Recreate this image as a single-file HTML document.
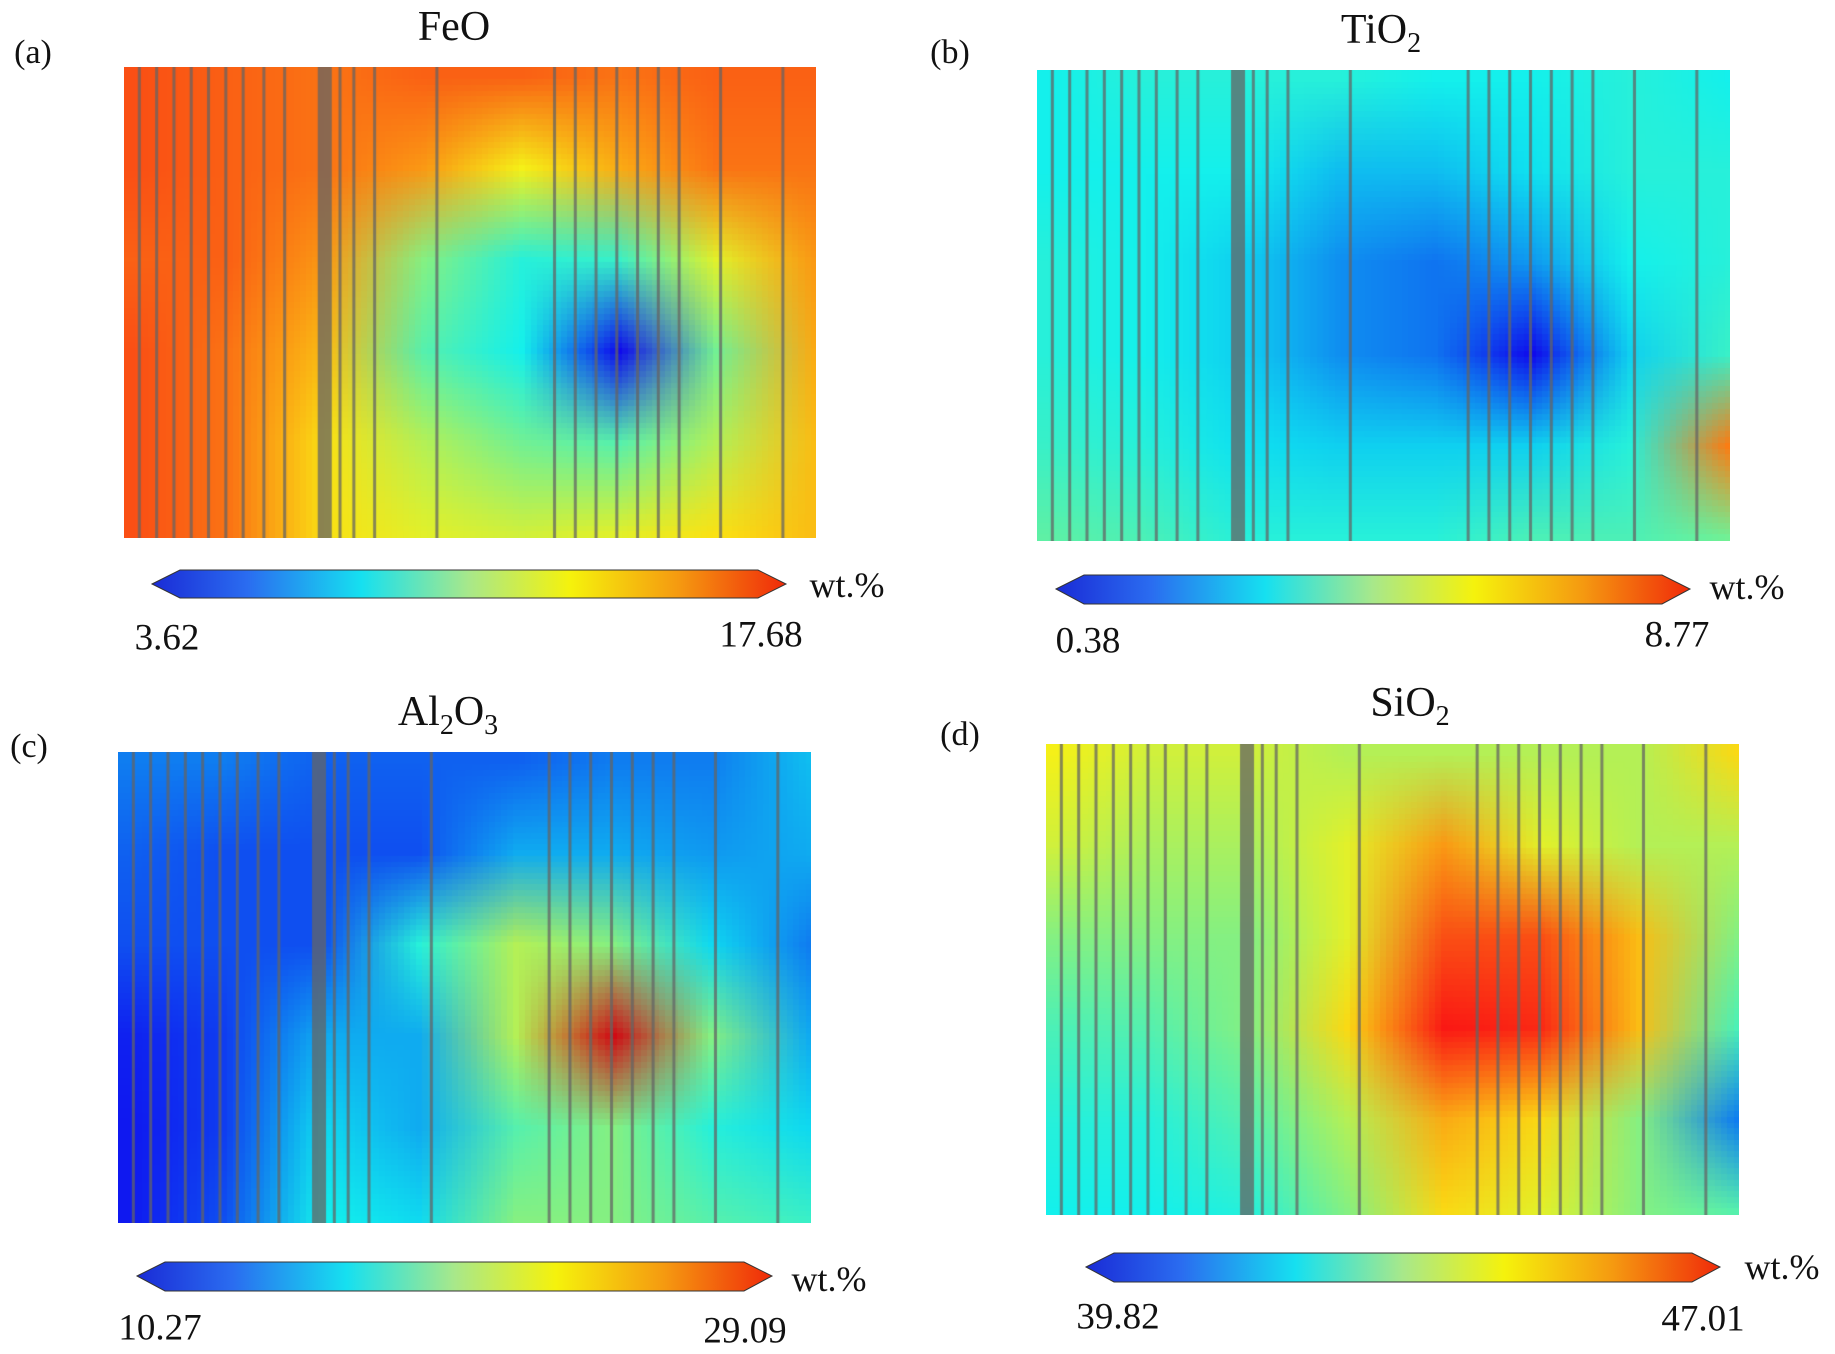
<!DOCTYPE html>
<html>
<head>
<meta charset="utf-8">
<style>
html,body{margin:0;padding:0;background:#fff;}
#root{position:relative;width:1835px;height:1354px;overflow:hidden;font-family:"Liberation Serif",serif;color:#111;}
.t{position:absolute;white-space:nowrap;transform:translate(-50%,-50%);}
canvas{position:absolute;}
svg{position:absolute;left:0;top:0;}
</style>
</head>
<body>
<div id="root">
<canvas id="ma" style="left:124px;top:67px;width:692px;height:471px" width="692" height="471"></canvas>
<canvas id="mb" style="left:1037px;top:70px;width:693px;height:471px" width="693" height="471"></canvas>
<canvas id="mc" style="left:118px;top:752px;width:693px;height:471px" width="693" height="471"></canvas>
<canvas id="md" style="left:1046px;top:744px;width:693px;height:471px" width="693" height="471"></canvas>

<svg width="1835" height="1354">
<defs>
<linearGradient id="jet" x1="0" x2="1" y1="0" y2="0">
<stop offset="0" stop-color="#1a2bd6"/><stop offset="0.15" stop-color="#2a6cf0"/>
<stop offset="0.33" stop-color="#16e0f0"/><stop offset="0.5" stop-color="#a8e88a"/>
<stop offset="0.66" stop-color="#f5f20c"/><stop offset="0.83" stop-color="#f59a10"/>
<stop offset="1" stop-color="#f02a0a"/>
</linearGradient>
</defs>
<polygon points="152,584 180,570 758,570 786,584 758,598 180,598" fill="url(#jet)" stroke="#333" stroke-width="1"/>
<polygon points="1056,589 1084,575 1662,575 1690,589 1662,604 1084,604" fill="url(#jet)" stroke="#333" stroke-width="1"/>
<polygon points="137,1276 165,1262 744,1262 772,1276 744,1291 165,1291" fill="url(#jet)" stroke="#333" stroke-width="1"/>
<polygon points="1086,1267 1114,1253 1692,1253 1720,1267 1692,1282 1114,1282" fill="url(#jet)" stroke="#333" stroke-width="1"/>
</svg>

<div class="t" style="left:33px;top:53px;font-size:34px">(a)</div>
<div class="t" style="left:454px;top:27px;font-size:42px">FeO</div>
<div class="t" style="left:167px;top:638px;font-size:37px">3.62</div>
<div class="t" style="left:761px;top:635px;font-size:37px">17.68</div>
<div class="t" style="left:847px;top:585px;font-size:36px">wt.%</div>

<div class="t" style="left:950px;top:53px;font-size:34px">(b)</div>
<div class="t" style="left:1381px;top:33px;font-size:42px">TiO<sub style="font-size:28px">2</sub></div>
<div class="t" style="left:1088px;top:641px;font-size:37px">0.38</div>
<div class="t" style="left:1677px;top:635px;font-size:37px">8.77</div>
<div class="t" style="left:1747px;top:587px;font-size:36px">wt.%</div>

<div class="t" style="left:29px;top:747px;font-size:34px">(c)</div>
<div class="t" style="left:448px;top:715px;font-size:42px">Al<sub style="font-size:28px">2</sub>O<sub style="font-size:28px">3</sub></div>
<div class="t" style="left:160px;top:1328px;font-size:37px">10.27</div>
<div class="t" style="left:745px;top:1331px;font-size:37px">29.09</div>
<div class="t" style="left:829px;top:1279px;font-size:36px">wt.%</div>

<div class="t" style="left:960px;top:735px;font-size:34px">(d)</div>
<div class="t" style="left:1410px;top:706px;font-size:42px">SiO<sub style="font-size:28px">2</sub></div>
<div class="t" style="left:1118px;top:1317px;font-size:37px">39.82</div>
<div class="t" style="left:1703px;top:1319px;font-size:37px">47.01</div>
<div class="t" style="left:1782px;top:1267px;font-size:36px">wt.%</div>
</div>
<script>
const feoGrid=[
[.8,.78,.76,.78,.78,.76,.78,.78],
[.8,.78,.76,.72,.62,.7,.76,.76],
[.78,.78,.72,.5,.4,.42,.6,.72],
[.8,.76,.68,.45,.38,.12,.48,.7],
[.8,.76,.64,.55,.48,.45,.55,.68],
[.8,.76,.64,.6,.58,.6,.64,.68]];
const tio2Grid=[
[.38,.4,.4,.4,.38,.38,.4,.38],
[.38,.38,.38,.32,.32,.36,.4,.4],
[.4,.38,.34,.27,.24,.28,.38,.4],
[.4,.38,.34,.27,.24,.12,.34,.42],
[.42,.4,.36,.34,.34,.34,.4,.75],
[.46,.44,.4,.4,.4,.44,.44,.48]];
const al2o3Grid=[
[.25,.25,.22,.22,.22,.25,.25,.32],
[.22,.2,.2,.2,.3,.3,.28,.3],
[.2,.2,.2,.4,.55,.5,.35,.25],
[.15,.18,.3,.3,.55,.92,.5,.3],
[.14,.18,.35,.3,.45,.5,.4,.35],
[.14,.2,.38,.35,.5,.5,.45,.42]];
const sio2Grid=[
[.62,.58,.58,.55,.55,.55,.55,.65],
[.58,.54,.54,.6,.72,.6,.55,.55],
[.5,.5,.5,.6,.8,.8,.68,.5],
[.44,.45,.5,.65,.86,.84,.68,.44],
[.4,.4,.45,.55,.7,.65,.5,.25],
[.38,.38,.4,.5,.65,.6,.5,.45]];
const stripeFrac=[.02,.045,.07,.095,.12,.145,.17,.2,.23,.28,.31,.33,.36,.45,.62,.65,.68,.71,.74,.77,.8,.86,.95];

function jet(v){
  v=Math.max(0,Math.min(1,v));
  const r=Math.max(0,Math.min(1,1.5-Math.abs(4*v-3)));
  const g=Math.max(0,Math.min(1,1.5-Math.abs(4*v-2)));
  const b=Math.max(0,Math.min(1,1.5-Math.abs(4*v-1)));
  return [Math.round(r*235+15),Math.round(g*230+10),Math.round(b*220+20)];
}
function draw(id,grid){
  const c=document.getElementById(id),ctx=c.getContext('2d');
  const rows=grid.length,cols=grid[0].length;
  const s=document.createElement('canvas');s.width=cols;s.height=rows;
  const sc=s.getContext('2d'),img=sc.createImageData(cols,rows);
  for(let r=0;r<rows;r++)for(let k=0;k<cols;k++){
    const col=jet(grid[r][k]),i=(r*cols+k)*4;
    img.data[i]=col[0];img.data[i+1]=col[1];img.data[i+2]=col[2];img.data[i+3]=255;}
  sc.putImageData(img,0,0);
  ctx.imageSmoothingEnabled=true;
  ctx.drawImage(s,-c.width/cols/2,-c.height/rows/2,c.width*(1+1/cols),c.height*(1+1/rows));
  ctx.fillStyle='rgba(100,100,100,0.75)';
  stripeFrac.forEach((f,i)=>{ctx.fillRect(f*c.width,0,i===9?14:3,c.height);});
}
draw('ma',feoGrid);draw('mb',tio2Grid);draw('mc',al2o3Grid);draw('md',sio2Grid);
</script>
</body>
</html>
